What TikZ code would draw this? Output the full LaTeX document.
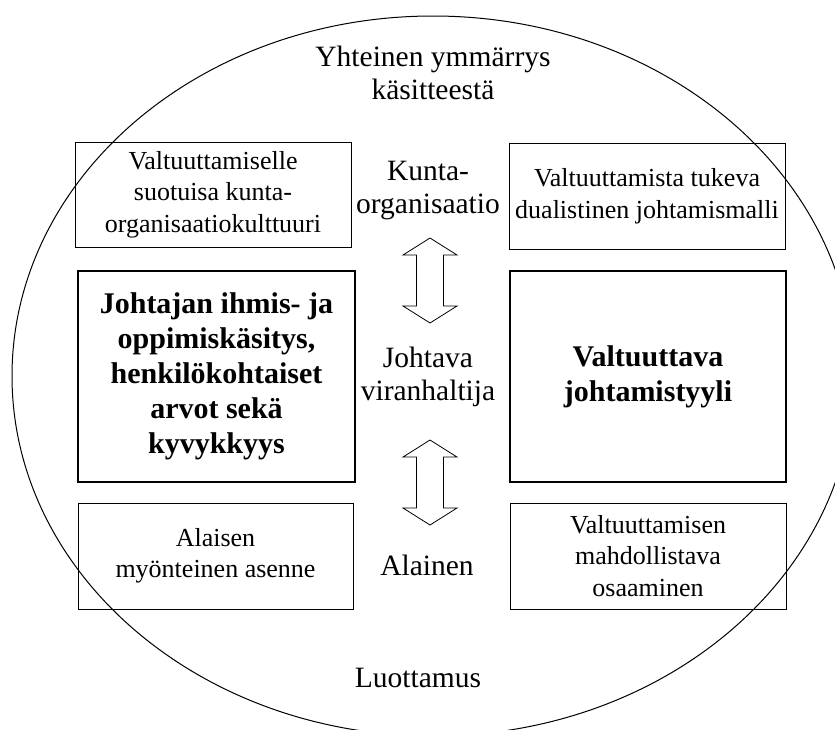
\documentclass[tikz,border=0pt]{standalone}
\usepackage{fontspec}
\setmainfont{Liberation Serif}
\begin{document}
\begin{tikzpicture}[x=1pt,y=-1pt,
  box/.style={draw, line width=1pt, inner sep=0pt, align=center,
    font=\fontsize{26}{31.5}\selectfont},
  keybox/.style={draw, line width=2.6pt, inner sep=0pt, align=center,
    font=\fontsize{30}{35}\selectfont\bfseries},
  lbl/.style={inner sep=0pt, align=center, font=\fontsize{29.5}{33}\selectfont},
  updown/.pic={\draw[line width=0.8pt, line join=miter]
    (0,-42.5) -- (27,-25.5) -- (13.5,-25.5) -- (13.5,25.5) -- (27,25.5)
    -- (0,42.5) -- (-27,25.5) -- (-13.5,25.5) -- (-13.5,-25.5)
    -- (-27,-25.5) -- cycle;},
  ]
\useasboundingbox (0,0) rectangle (835,729);

% outer ellipse, running past the lower and right edges
\begin{scope}
  \clip (0,0) rectangle (835,729);
  \draw[line width=1pt] (433,376) ellipse [x radius=421, y radius=360];
\end{scope}

% texts inside the ellipse
\node[lbl] (shared) at (433,73) {Yhteinen ymmärrys\\käsitteestä};
\node[lbl] (trust) at (418,678) {Luottamus};

% level labels in the middle column
\node[lbl] (org) at (428,191) {Kunta-\\organisaatio};
\node[lbl] (lead) at (428,377) {Johtava\\viranhaltija};
\node[lbl] (sub) at (427,565) {Alainen};

% left column
\node[box, minimum width=276, minimum height=105] (culture) at (213,194.5)
  {Valtuuttamiselle\\suotuisa kunta-\\organisaatiokulttuuri};
\node[keybox, minimum width=277, minimum height=211] (values) at (216.5,376.5)
  {Johtajan ihmis- ja\\oppimiskäsitys,\\henkilökohtaiset\\arvot sekä\\kyvykkyys};
\node[box, minimum width=275, minimum height=106] (attitude) at (215.5,556)
  {Alaisen\\myönteinen asenne};

% right column
\node[box, minimum width=276, minimum height=106] (model) at (647,196)
  {Valtuuttamista tukeva\\dualistinen johtamismalli};
\node[keybox, minimum width=276, minimum height=211] (style) at (648,376.5)
  {Valtuuttava\\johtamistyyli};
\node[box, minimum width=276, minimum height=106] (skills) at (648,556)
  {Valtuuttamisen\\mahdollistava\\osaaminen};

% two-way arrows between the levels
\pic at (430,280.5) {updown};
\pic at (430,482.5) {updown};
\end{tikzpicture}
\end{document}
